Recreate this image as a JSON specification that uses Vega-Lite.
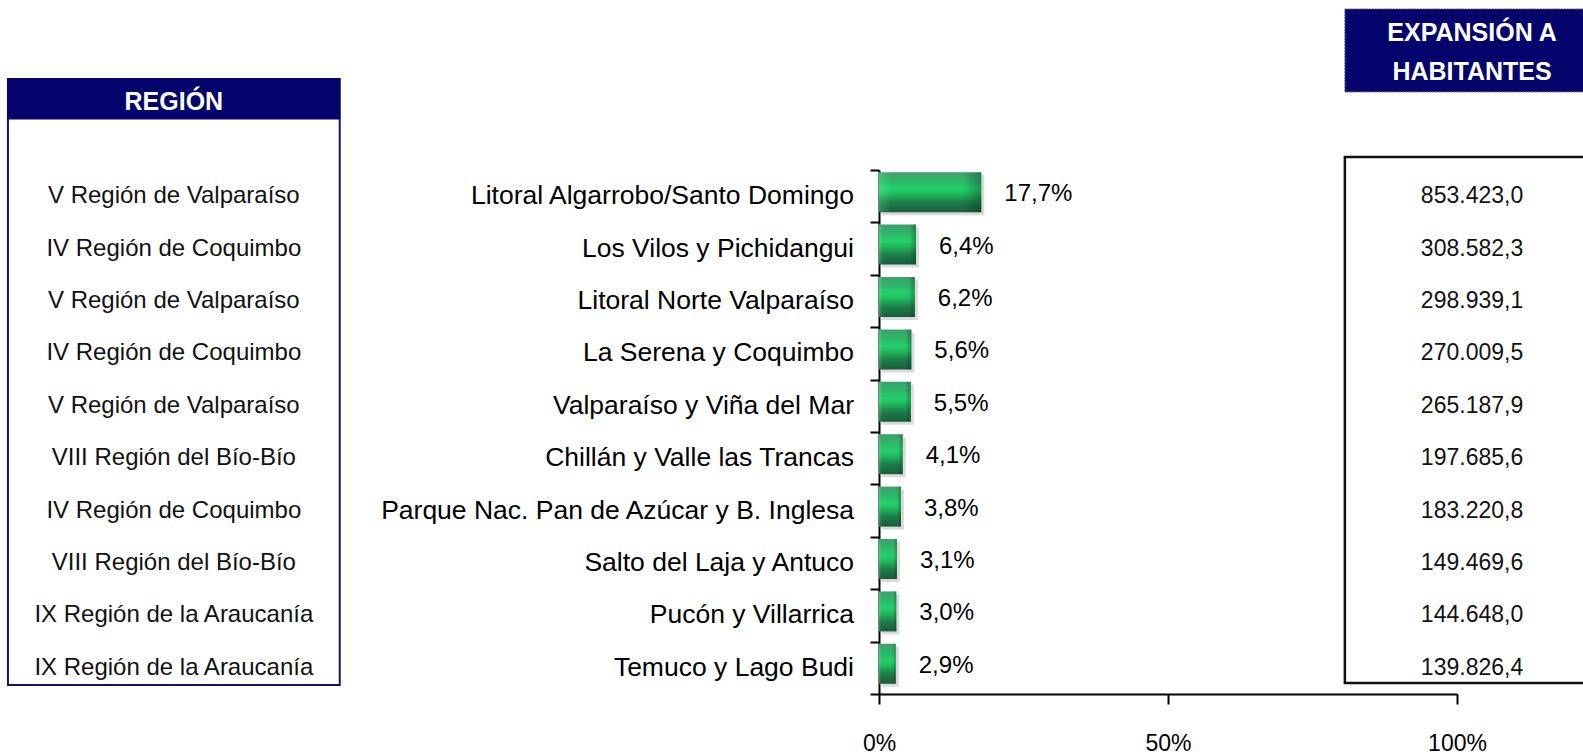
{
  "$schema": "https://vega.github.io/schema/vega-lite/v6.json",
  "width": 578,
  "height": 524,
  "autosize": {"type": "none"},
  "padding": {"left": 879, "top": 170, "right": 126, "bottom": 62},
  "background": "white",
  "config": {
    "view": {"stroke": null},
    "scale": {"continuousPadding": 0},
    "locale": {"number": {"decimal": ",", "thousands": ".", "grouping": [3], "currency": ["$", ""]}}
  },
  "resolve": {"axis": {"x": "independent", "y": "independent"}},
  "data": {
    "values": [
      {"rank": 1, "destino": "Litoral Algarrobo/Santo Domingo", "region": "V Región de Valparaíso", "pct": 17.7, "hab": 853423.0},
      {"rank": 2, "destino": "Los Vilos y Pichidangui", "region": "IV Región de Coquimbo", "pct": 6.4, "hab": 308582.3},
      {"rank": 3, "destino": "Litoral Norte Valparaíso", "region": "V Región de Valparaíso", "pct": 6.2, "hab": 298939.1},
      {"rank": 4, "destino": "La Serena y Coquimbo", "region": "IV Región de Coquimbo", "pct": 5.6, "hab": 270009.5},
      {"rank": 5, "destino": "Valparaíso y Viña del Mar", "region": "V Región de Valparaíso", "pct": 5.5, "hab": 265187.9},
      {"rank": 6, "destino": "Chillán y Valle las Trancas", "region": "VIII  Región del Bío-Bío", "pct": 4.1, "hab": 197685.6},
      {"rank": 7, "destino": "Parque Nac. Pan de Azúcar y B. Inglesa", "region": "IV Región de Coquimbo", "pct": 3.8, "hab": 183220.8},
      {"rank": 8, "destino": "Salto del Laja y Antuco", "region": "VIII Región del Bío-Bío", "pct": 3.1, "hab": 149469.6},
      {"rank": 9, "destino": "Pucón y Villarrica", "region": "IX Región de la Araucanía", "pct": 3.0, "hab": 144648.0},
      {"rank": 10, "destino": "Temuco y Lago Budi", "region": "IX Región de la Araucanía", "pct": 2.9, "hab": 139826.4}
    ]
  },
  "transform": [{"calculate": "datum.pct / 100", "as": "frac"}],
  "layer": [
    {
      "data": {"values": [{}]},
      "mark": {"type": "rect", "fill": "white", "stroke": "#141466", "strokeWidth": 2},
      "encoding": {
        "x": {"datum": -150.7, "type": "quantitative", "scale": {"domain": [0, 100], "nice": false, "zero": false, "padding": 0}, "axis": null},
        "x2": {"datum": -93.3},
        "y": {"datum": -1.237, "type": "quantitative", "scale": {"domain": [0.5, 10.5], "reverse": true, "nice": false, "zero": false, "padding": 0}, "axis": null},
        "y2": {"datum": 10.33}
      }
    },
    {
      "data": {"values": [{}]},
      "mark": {"type": "rect", "fill": "#03036b", "stroke": "#03036b", "strokeWidth": 1},
      "encoding": {
        "x": {"datum": -150.7, "type": "quantitative", "scale": {"domain": [0, 100], "nice": false, "zero": false, "padding": 0}, "axis": null},
        "x2": {"datum": -93.3},
        "y": {"datum": -1.237, "type": "quantitative", "scale": {"domain": [0.5, 10.5], "reverse": true, "nice": false, "zero": false, "padding": 0}, "axis": null},
        "y2": {"datum": -0.473}
      }
    },
    {
      "data": {"values": [{}]},
      "mark": {"type": "text", "text": "REGIÓN", "font": "Liberation Sans", "fontWeight": "bold", "fontSize": 25, "color": "white", "align": "center", "baseline": "middle"},
      "encoding": {
        "x": {"datum": -122, "type": "quantitative", "scale": {"domain": [0, 100], "nice": false, "zero": false, "padding": 0}, "axis": null},
        "y": {"datum": -0.8, "type": "quantitative", "scale": {"domain": [0.5, 10.5], "reverse": true, "nice": false, "zero": false, "padding": 0}, "axis": null}
      }
    },
    {
      "data": {"values": [{}]},
      "mark": {"type": "rect", "fill": "white", "stroke": "#111111", "strokeWidth": 2.5},
      "encoding": {
        "x": {"datum": 80.6, "type": "quantitative", "scale": {"domain": [0, 100], "nice": false, "zero": false, "padding": 0}, "axis": null},
        "x2": {"datum": 125},
        "y": {"datum": 0.252, "type": "quantitative", "scale": {"domain": [0.5, 10.5], "reverse": true, "nice": false, "zero": false, "padding": 0}, "axis": null},
        "y2": {"datum": 10.29}
      }
    },
    {
      "data": {"values": [{}]},
      "mark": {"type": "rect", "fill": "#03036b", "stroke": "#6a6a8a", "strokeWidth": 1, "strokeDash": [2, 1]},
      "encoding": {
        "x": {"datum": 80.6, "type": "quantitative", "scale": {"domain": [0, 100], "nice": false, "zero": false, "padding": 0}, "axis": null},
        "x2": {"datum": 125},
        "y": {"datum": -2.573, "type": "quantitative", "scale": {"domain": [0.5, 10.5], "reverse": true, "nice": false, "zero": false, "padding": 0}, "axis": null},
        "y2": {"datum": -0.989}
      }
    },
    {
      "data": {"values": [{}]},
      "mark": {"type": "text", "text": ["EXPANSIÓN A", "HABITANTES"], "lineHeight": 39, "font": "Liberation Sans", "fontWeight": "bold", "fontSize": 25, "color": "white", "align": "center", "baseline": "middle"},
      "encoding": {
        "x": {"datum": 102.6, "type": "quantitative", "scale": {"domain": [0, 100], "nice": false, "zero": false, "padding": 0}, "axis": null},
        "y": {"datum": -2.114, "type": "quantitative", "scale": {"domain": [0.5, 10.5], "reverse": true, "nice": false, "zero": false, "padding": 0}, "axis": null}
      }
    },
    {
      "mark": {"type": "bar", "orient": "horizontal", "height": 40, "xOffset": 3, "yOffset": -1, "color": "#7a7a7a", "opacity": 0.28},
      "encoding": {
        "x": {"field": "pct", "type": "quantitative", "scale": {"domain": [0, 100], "nice": false, "zero": false, "padding": 0}, "axis": null},
        "y": {"field": "rank", "type": "quantitative", "scale": {"domain": [0.5, 10.5], "reverse": true, "nice": false, "zero": false, "padding": 0}, "axis": null}
      }
    },
    {
      "mark": {
        "type": "bar", "orient": "horizontal", "height": 40, "yOffset": -4,
        "color": {"gradient": "linear", "x1": 0, "y1": 0, "x2": 0, "y2": 1,
          "stops": [
            {"offset": 0, "color": "#3f9f6c"},
            {"offset": 0.2, "color": "#2fb468"},
            {"offset": 0.42, "color": "#24d06c"},
            {"offset": 0.55, "color": "#1fb95b"},
            {"offset": 0.75, "color": "#1d7e48"},
            {"offset": 1, "color": "#1b5c3a"}
          ]}
      },
      "encoding": {
        "x": {"field": "pct", "type": "quantitative", "scale": {"domain": [0, 100], "nice": false, "zero": false, "padding": 0},
          "axis": {"values": [0, 50, 100], "labelExpr": "datum.value + '%'", "title": null, "grid": false,
            "domainColor": "#000000", "domainWidth": 2, "tickColor": "#000000", "tickWidth": 2, "tickSize": 10,
            "labelPadding": 28, "labelFont": "Liberation Sans", "labelFontSize": 23, "labelColor": "#000000", "labelFlush": false}},
        "y": {"field": "rank", "type": "quantitative", "scale": {"domain": [0.5, 10.5], "reverse": true, "nice": false, "zero": false, "padding": 0},
          "axis": {"values": [0.5, 1.5, 2.5, 3.5, 4.5, 5.5, 6.5, 7.5, 8.5, 9.5, 10.5], "labels": false, "title": null, "grid": false,
            "domainColor": "#000000", "domainWidth": 2, "tickColor": "#000000", "tickWidth": 2, "tickSize": 9}}
      }
    },
    {
      "mark": {
        "type": "bar", "orient": "horizontal", "height": 40, "yOffset": -4,
        "color": {"gradient": "linear", "x1": 0, "y1": 0, "x2": 1, "y2": 0,
          "stops": [
            {"offset": 0, "color": "rgba(120,255,170,0.25)"},
            {"offset": 0.12, "color": "rgba(120,255,170,0)"},
            {"offset": 0.82, "color": "rgba(0,40,20,0)"},
            {"offset": 1, "color": "rgba(0,40,20,0.35)"}
          ]}
      },
      "encoding": {
        "x": {"field": "pct", "type": "quantitative", "scale": {"domain": [0, 100], "nice": false, "zero": false, "padding": 0}, "axis": null},
        "y": {"field": "rank", "type": "quantitative", "scale": {"domain": [0.5, 10.5], "reverse": true, "nice": false, "zero": false, "padding": 0}, "axis": null}
      }
    },
    {
      "mark": {"type": "text", "align": "left", "baseline": "middle", "dx": 23, "dy": -2, "font": "Liberation Sans", "fontSize": 24, "color": "#000000"},
      "encoding": {
        "x": {"field": "pct", "type": "quantitative", "scale": {"domain": [0, 100], "nice": false, "zero": false, "padding": 0}, "axis": null},
        "y": {"field": "rank", "type": "quantitative", "scale": {"domain": [0.5, 10.5], "reverse": true, "nice": false, "zero": false, "padding": 0}, "axis": null},
        "text": {"field": "frac", "type": "quantitative", "format": ".1%"}
      }
    },
    {
      "mark": {"type": "text", "align": "right", "baseline": "middle", "dx": -25, "font": "Liberation Sans", "fontSize": 26.5, "color": "#000000"},
      "encoding": {
        "x": {"datum": 0, "type": "quantitative", "scale": {"domain": [0, 100], "nice": false, "zero": false, "padding": 0}, "axis": null},
        "y": {"field": "rank", "type": "quantitative", "scale": {"domain": [0.5, 10.5], "reverse": true, "nice": false, "zero": false, "padding": 0}, "axis": null},
        "text": {"field": "destino", "type": "nominal"}
      }
    },
    {
      "mark": {"type": "text", "align": "center", "baseline": "middle", "font": "Liberation Sans", "fontSize": 24, "color": "#111111"},
      "encoding": {
        "x": {"datum": -122, "type": "quantitative", "scale": {"domain": [0, 100], "nice": false, "zero": false, "padding": 0}, "axis": null},
        "y": {"field": "rank", "type": "quantitative", "scale": {"domain": [0.5, 10.5], "reverse": true, "nice": false, "zero": false, "padding": 0}, "axis": null},
        "text": {"field": "region", "type": "nominal"}
      }
    },
    {
      "mark": {"type": "text", "align": "center", "baseline": "middle", "font": "Liberation Sans", "fontSize": 23, "color": "#111111"},
      "encoding": {
        "x": {"datum": 102.6, "type": "quantitative", "scale": {"domain": [0, 100], "nice": false, "zero": false, "padding": 0}, "axis": null},
        "y": {"field": "rank", "type": "quantitative", "scale": {"domain": [0.5, 10.5], "reverse": true, "nice": false, "zero": false, "padding": 0}, "axis": null},
        "text": {"field": "hab", "type": "quantitative", "format": ",.1f"}
      }
    }
  ]
}
